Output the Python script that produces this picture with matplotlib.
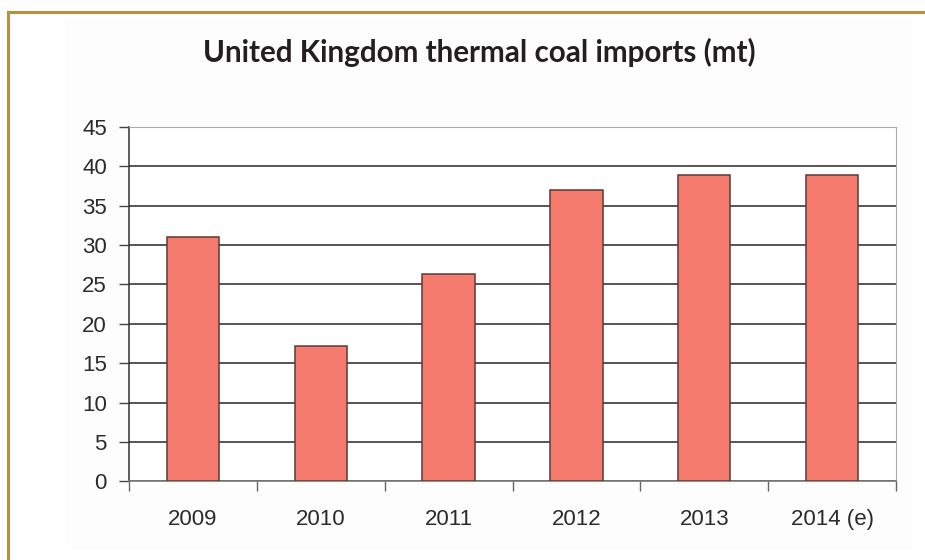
import matplotlib.pyplot as plt
from matplotlib.patches import Rectangle
from matplotlib.lines import Line2D

# UK thermal coal imports, million tonnes
years = ['2009', '2010', '2011', '2012', '2013', '2014 (e)']
imports_mt = [31.0, 17.2, 26.3, 37.0, 38.9, 38.9]
y_ticks = [0, 5, 10, 15, 20, 25, 30, 35, 40, 45]

fig = plt.figure(figsize=(9.25, 5.6), dpi=100)
fig.patch.set_facecolor('white')

# faint panel behind the chart
fig.add_artist(Rectangle((65 / 925, 10 / 560), 847 / 925, 530 / 560,
                         transform=fig.transFigure, facecolor='#fdfdfd',
                         edgecolor='none', zorder=0))
# gold frame lines, top and left
fig.add_artist(Line2D([7.5 / 925, 1.0], [1 - 12 / 560, 1 - 12 / 560],
                      transform=fig.transFigure, color='#b8913f', lw=2.2))
fig.add_artist(Line2D([7.5 / 925, 7.5 / 925], [0.0, 1 - 12 / 560],
                      transform=fig.transFigure, color='#b8913f', lw=2.2))

fig.text(0.518, 1 - 52 / 560, 'United Kingdom thermal coal imports (mt)',
         ha='center', va='center', fontsize=21.3, fontweight='bold',
         family='Lato', color='#231f20')

ax = fig.add_axes([129 / 925, 78.6 / 560, 767 / 925, 354.6 / 560])
ax.set_facecolor('white')

x = range(len(years))
ax.bar(x, imports_mt, width=0.41, color='#f47b6d', edgecolor='#5b3a36',
       linewidth=1.1, zorder=3)

ax.set_xlim(-0.5, len(years) - 0.5)
ax.set_ylim(0, 45)
ax.set_yticks(y_ticks)
ax.yaxis.grid(True, color='#555555', linewidth=1.4, zorder=1)
ax.set_axisbelow(True)

# year labels centred, tick marks on the category boundaries
ax.set_xticks(list(x))
ax.set_xticklabels(years)
ax.set_xticks([i - 0.5 for i in range(len(years) + 1)], minor=True)
ax.tick_params(axis='x', which='major', length=0, pad=20)
ax.tick_params(axis='x', which='minor', length=7, width=1, color='#666666',
               direction='out')
ax.tick_params(axis='y', length=7, width=1, color='#444444', pad=9)

for lab in ax.get_xticklabels() + ax.get_yticklabels():
    lab.set_fontfamily('Liberation Sans')
    lab.set_fontsize(16)
    lab.set_color('#2b2b2b')

ax.spines['left'].set_color('#333333')
ax.spines['left'].set_linewidth(1.1)
ax.spines['bottom'].set_color('#7a7a7a')
ax.spines['bottom'].set_linewidth(1.2)
ax.spines['top'].set_color('#aaaaaa')
ax.spines['right'].set_color('#aaaaaa')

fig.savefig('out.png', dpi=100)
